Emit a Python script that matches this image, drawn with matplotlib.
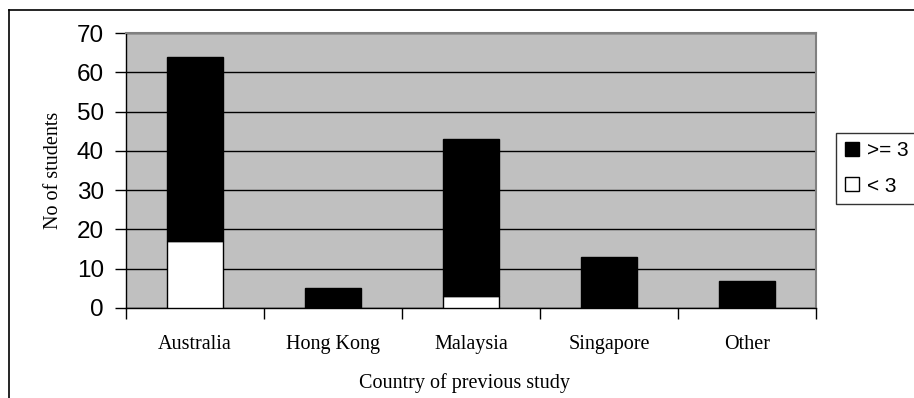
import matplotlib
matplotlib.use("Agg")
import matplotlib.pyplot as plt
from matplotlib.lines import Line2D
import numpy as np

countries = ["Australia", "Hong Kong", "Malaysia", "Singapore", "Other"]
over_3 = [47, 5, 40, 13, 7]     # >= 3
under_3 = [17, 0, 3, 0, 0]      # < 3
y_ticks = [0, 10, 20, 30, 40, 50, 60, 70]

W, H = 914, 398
fig = plt.figure(figsize=(W / 100, H / 100), dpi=100)
ax = fig.add_axes([126 / W, 1 - 308 / H, 690 / W, 275 / H])
ax.set_facecolor("#C0C0C0")

x = np.arange(len(countries))
ax.bar(x, under_3, width=0.4, color="white", edgecolor="black", linewidth=1, zorder=3)
ax.bar(x, over_3, width=0.4, bottom=under_3, color="black", edgecolor="black",
       linewidth=1, zorder=3)

ax.set_xlim(-0.5, len(countries) - 0.5)
ax.set_ylim(0, 70)
ax.set_yticks(y_ticks)
ax.yaxis.grid(True, color="black", linewidth=1)
ax.set_axisbelow(True)

# category labels centred, tick marks on the boundaries
ax.set_xticks(x)
ax.set_xticklabels(countries, fontfamily="Liberation Serif", fontsize=14.5)
ax.set_xticks(np.arange(-0.5, len(countries)), minor=True)
ax.tick_params(axis="x", which="major", length=0, pad=19.5)
ax.tick_params(axis="x", which="minor", length=8, width=1, direction="out")
ax.tick_params(axis="y", length=8, width=1, direction="out", pad=8)
for lbl in ax.get_yticklabels():
    lbl.set_fontfamily("Liberation Sans")
    lbl.set_fontsize(17.5)

for side in ("top", "right"):
    ax.spines[side].set_color("#808080")
    ax.spines[side].set_linewidth(1.5)
for side in ("left", "bottom"):
    ax.spines[side].set_color("black")
    ax.spines[side].set_linewidth(1)

ax.set_ylabel("No of students", fontfamily="Liberation Serif", fontsize=14.5)
ax.yaxis.set_label_coords(-0.092, 0.5)
ax.set_xlabel("Country of previous study", fontfamily="Liberation Serif", fontsize=14.5)
ax.xaxis.set_label_coords(0.49, -0.235)

handles = [
    Line2D([], [], marker="s", linestyle="none", markersize=10,
           markerfacecolor="black", markeredgecolor="black"),
    Line2D([], [], marker="s", linestyle="none", markersize=10,
           markerfacecolor="white", markeredgecolor="black"),
]
leg = fig.legend(handles, [">= 3", "< 3"], loc="upper left",
                 bbox_to_anchor=(836 / W, 1 - 133 / H),
                 prop={"family": "Liberation Sans", "size": 15},
                 frameon=True, fancybox=False, edgecolor="black",
                 borderpad=0.4, handlelength=0.7, handletextpad=0.4,
                 labelspacing=0.78, borderaxespad=0)
leg.get_frame().set_linewidth(1)

# outer frame around the chart
fig.add_artist(Line2D([9 / W, 1], [1 - 10 / H, 1 - 10 / H], color="black", linewidth=1.2))
fig.add_artist(Line2D([9 / W, 9 / W], [0, 1 - 10 / H], color="black", linewidth=1.2))

fig.savefig("out.png", dpi=100)
